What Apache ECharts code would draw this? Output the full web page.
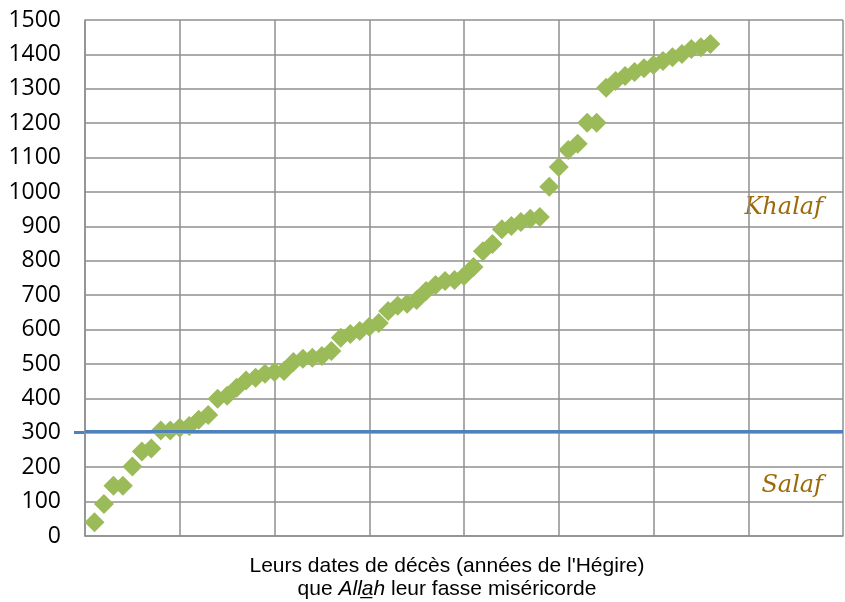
<!DOCTYPE html>
<html>
<head>
<meta charset="utf-8">
<script src="https://cdn.jsdelivr.net/npm/echarts@6/dist/echarts.min.js"></script>
<style>
  html, body { margin: 0; padding: 0; background: #fff; }
  #chart { width: 845px; height: 602px; }
</style>
</head>
<body>
<div id="chart"></div>
<script>
// années de décès (Hégire), une par savant, dans l'ordre
const deathYears = [
  40, 93, 146, 146, 202, 246, 254, 307, 307, 315,
  320, 338, 352, 399, 408, 431, 452, 460, 472, 477,
  480, 506, 515, 518, 523, 538, 576, 587, 596, 608,
  619, 654, 669, 675, 686, 712, 730, 741, 744, 756,
  782, 828, 849, 892, 901, 913, 922, 927, 1015, 1073,
  1122, 1140, 1201, 1201, 1303, 1323, 1337, 1349, 1360, 1369,
  1381, 1392, 1401, 1416, 1421, 1430
]
const salafLimit = 305
const yTicks = [0, 1500, 100]   // min, max, pas
const xTicks = [0, 80, 10]

const points = deathYears.map((v, i) => [i + 1, v])

const chart = echarts.init(document.getElementById('chart'))

const gridColor = '#8f8f8f'

let options = {
  animation: false,
  grid: { left: 85, right: 2, top: 20, bottom: 66, outerBoundsMode: 'none', containLabel: false },
  xAxis: {
    type: 'value',
    min: xTicks[0],
    max: xTicks[1],
    interval: xTicks[2],
    axisLine: { show: true, lineStyle: { color: gridColor, width: 1.5 } },
    axisTick: { show: false },
    axisLabel: { show: false },
    splitLine: { show: true, lineStyle: { color: gridColor, width: 1.5 } },
    name: "Leurs dates de décès (années de l'Hégire)\n{n|que }{i|Alla\u0332h}{n| leur fasse miséricorde}",
    nameLocation: 'middle',
    nameGap: 19,
    nameTextStyle: {
      fontFamily: 'Liberation Sans',
      fontSize: 21,
      color: '#000',
      lineHeight: 23,
      padding: [0, 34, 0, 0],
      rich: {
        n: { fontFamily: 'Liberation Sans', fontSize: 21, color: '#000', lineHeight: 23 },
        i: { fontFamily: 'Liberation Sans', fontSize: 21, color: '#000', fontStyle: 'italic', lineHeight: 23 }
      }
    }
  },
  yAxis: {
    type: 'value',
    min: yTicks[0],
    max: yTicks[1],
    interval: yTicks[2],
    axisLine: { show: true, lineStyle: { color: gridColor, width: 1.5 } },
    axisTick: { show: false },
    axisLabel: {
      color: '#000', fontFamily: 'Open Sans', fontSize: 23, margin: 24,
      formatter: v => String(v)
    },
    splitLine: { show: true, lineStyle: { color: gridColor, width: 1.5 } }
  },
  series: [
    {
      name: 'Décès',
      type: 'scatter',
      data: points,
      symbol: 'diamond',
      symbolSize: 20,
      itemStyle: { color: '#9bbb59', opacity: 1 },
      markLine: {
        silent: true,
        z: 10,
        symbol: 'none',
        label: { show: false },
        lineStyle: { color: '#4f81bd', width: 3, type: 'solid' },
        data: [{ yAxis: salafLimit }]
      }
    }
  ],
  graphic: [
    {
      type: 'text', right: 22, top: 196,
      style: { text: 'Khalaf', fill: '#9c6a08', font: 'italic 24px "DejaVu Serif"' }
    },
    {
      type: 'text', right: 22, top: 474,
      style: { text: 'Salaf', fill: '#9c6a08', font: 'italic 24px "DejaVu Serif"' }
    },
    {
      // petit prolongement de la ligne bleue à gauche de l'axe
      type: 'rect', left: 74, top: 431,
      shape: { width: 12, height: 3 },
      style: { fill: '#4f81bd' }
    }
  ]
}
chart.setOption(options, true)
</script>
</body>
</html>
